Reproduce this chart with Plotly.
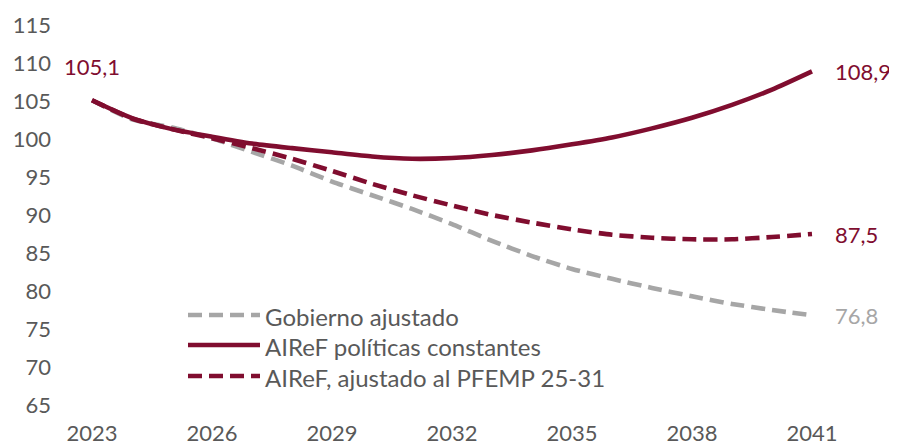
"""
Deuda: escenarios Gobierno vs AIReF (2023-2041)
"""
import plotly.graph_objects as go

# datos
years = list(range(2023, 2042))
gobierno_ajustado = [105.1, 102.6, 101.5, 100.1, 98.3, 96.5, 94.4, 92.6, 90.8, 88.8,
                     86.6, 84.6, 82.9, 81.6, 80.4, 79.3, 78.3, 77.5, 76.8]
airef_constantes = [105.1, 102.75, 101.3, 100.3, 99.4, 98.8, 98.25, 97.7, 97.4, 97.5,
                    97.9, 98.5, 99.3, 100.2, 101.4, 102.8, 104.5, 106.5, 108.9]
airef_pfemp = [105.1, 102.7, 101.3, 100.1, 98.8, 97.4, 95.8, 94.1, 92.6, 91.25,
               90.0, 89.0, 88.1, 87.4, 87.0, 86.8, 86.8, 87.1, 87.5]

series_names = ["Gobierno ajustado", "AIReF políticas constantes",
                "AIReF, ajustado al PFEMP 25-31"]
x_ticks = list(range(2023, 2042, 3))
y_ticks = list(range(65, 116, 5))

GRANATE = "#800D2F"
GRIS = "#A6A6A6"
TEXTO = "#595959"
FONT = "Lato"
DASH = "14px,7px"

# el body de la página deja 8px de margen
OFFSET = 8
W, H = 897 - OFFSET, 448 - OFFSET
MARGIN = dict(l=44, r=5, t=17, b=43)


def px_to_paper(px, py):
    """pixel de la ventana -> coordenadas paper"""
    pw = W - MARGIN['l'] - MARGIN['r']
    ph = H - MARGIN['t'] - MARGIN['b']
    x = (px - OFFSET - MARGIN['l']) / pw
    y = (H - MARGIN['b'] - (py - OFFSET)) / ph
    return x, y


def fmt(v):
    return f"{v:.1f}".replace(".", ",")


fig = go.Figure()

# orden de dibujo: gris, discontinua granate, continua encima
styles = [
    (gobierno_ajustado, GRIS, DASH),
    (airef_pfemp, GRANATE, DASH),
    (airef_constantes, GRANATE, "solid"),
]
for values, color, dash in styles:
    fig.add_trace(go.Scatter(
        x=years,
        y=values,
        mode='lines',
        line=dict(color=color, width=4.6, dash=dash, shape='spline', smoothing=0.6),
        showlegend=False,
        hoverinfo='skip'
    ))

annotations = []

# valor inicial
annotations.append(dict(
    x=years[0], y=airef_constantes[0], text=fmt(airef_constantes[0]),
    showarrow=False, yshift=34, xanchor='center', yanchor='middle',
    font=dict(family=FONT, size=22, color=GRANATE)
))

# valores finales
for values, color in [(airef_constantes, GRANATE), (airef_pfemp, GRANATE),
                      (gobierno_ajustado, GRIS)]:
    annotations.append(dict(
        x=years[-1], y=values[-1], text=fmt(values[-1]),
        showarrow=False, xanchor='left', yanchor='middle', xshift=21,
        font=dict(family=FONT, size=22, color=color)
    ))

# leyenda a mano (símbolos largos como en el original)
shapes = []
legend_rows = [
    (series_names[0], GRIS, DASH, 315),
    (series_names[1], GRANATE, "solid", 345),
    (series_names[2], GRANATE, DASH, 376),
]
for name, color, dash, py in legend_rows:
    x0, y = px_to_paper(188, py)
    x1, _ = px_to_paper(260, py)
    shapes.append(dict(
        type='line', xref='paper', yref='paper', x0=x0, x1=x1, y0=y, y1=y,
        line=dict(color=color, width=4.6, dash=dash)
    ))
    tx, ty = px_to_paper(263, py + 1)
    annotations.append(dict(
        x=tx, y=ty, xref='paper', yref='paper', text=name, showarrow=False,
        xanchor='left', yanchor='middle',
        font=dict(family=FONT, size=24, color=TEXTO)
    ))

fig.update_layout(
    width=W,
    height=H,
    margin=MARGIN,
    plot_bgcolor='white',
    paper_bgcolor='white',
    font=dict(family=FONT, size=22, color=TEXTO),
    showlegend=False,
    annotations=annotations,
    shapes=shapes,
    xaxis=dict(
        range=[2022, 2043],
        tickvals=x_ticks,
        showgrid=False, zeroline=False, showline=False, ticks='',
        automargin=False,
        ticklabelstandoff=13,
        tickfont=dict(family=FONT, size=22, color=TEXTO)
    ),
    yaxis=dict(
        range=[65, 115],
        tickvals=y_ticks,
        showgrid=False, zeroline=False, showline=False, ticks='',
        automargin=False,
        tickfont=dict(family=FONT, size=22, color=TEXTO)
    )
)

fig.write_html("out.html")
